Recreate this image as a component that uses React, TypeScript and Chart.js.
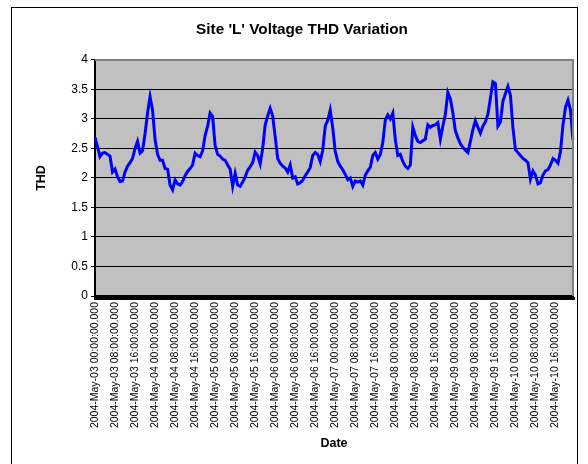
import React, { useEffect, useRef } from "react";
import { Chart, registerables } from "chart.js";

Chart.register(...registerables);

const TITLE = "Site 'L' Voltage THD Variation";
const X_TITLE = "Date";
const Y_TITLE = "THD";

// days covered (hourly samples, 8 days x 24 hours)
const days = ["03", "04", "05", "06", "07", "08", "09", "10"];
const hours = [
  "00", "01", "02", "03", "04", "05", "06", "07", "08", "09", "10", "11",
  "12", "13", "14", "15", "16", "17", "18", "19", "20", "21", "22", "23",
];

// hourly THD values, 2004-May-03 00:00 .. 2004-May-10 23:00
const thd = [
  2.69, 2.53, 2.36, 2.42, 2.43, 2.40, 2.37, 2.10, 2.15, 2.02,
  1.94, 1.95, 2.10, 2.20, 2.26, 2.33, 2.50, 2.62, 2.42, 2.46,
  2.75, 3.10, 3.38, 3.15, 2.65, 2.40, 2.30, 2.30, 2.16, 2.15,
  1.88, 1.80, 1.97, 1.90, 1.88, 1.94, 2.04, 2.11, 2.16, 2.22,
  2.42, 2.38, 2.36, 2.46, 2.72, 2.88, 3.10, 3.04, 2.55, 2.40,
  2.37, 2.32, 2.30, 2.22, 2.15, 1.86, 2.08, 1.88, 1.86, 1.93,
  2.02, 2.13, 2.19, 2.26, 2.44, 2.38, 2.24, 2.50, 2.90, 3.05,
  3.18, 3.05, 2.70, 2.33, 2.25, 2.20, 2.17, 2.10, 2.22, 2.00,
  2.02, 1.90, 1.92, 1.96, 2.04, 2.10, 2.18, 2.38, 2.43, 2.40,
  2.28, 2.47, 2.88, 2.98, 3.15, 2.85, 2.45, 2.28, 2.20, 2.14,
  2.06, 1.97, 2.00, 1.86, 1.95, 1.93, 1.95, 1.88, 2.05, 2.12,
  2.18, 2.38, 2.43, 2.32, 2.40, 2.60, 2.98, 3.07, 3.00, 3.10,
  2.65, 2.38, 2.40, 2.28, 2.20, 2.16, 2.22, 2.86, 2.72, 2.62,
  2.60, 2.63, 2.66, 2.90, 2.86, 2.89, 2.90, 2.94, 2.66, 2.88,
  3.08, 3.45, 3.34, 3.10, 2.80, 2.68, 2.58, 2.52, 2.47, 2.43,
  2.62, 2.82, 2.97, 2.86, 2.76, 2.88, 2.95, 3.08, 3.35, 3.63,
  3.60, 2.88, 2.95, 3.30, 3.43, 3.55, 3.40, 2.85, 2.48, 2.43,
  2.38, 2.33, 2.30, 2.26, 1.98, 2.12, 2.05, 1.90, 1.92, 2.05,
  2.12, 2.14, 2.22, 2.33, 2.30, 2.25, 2.45, 2.90, 3.20, 3.32,
  3.15, 2.64,
];

const labelEvery = 8;
const yTicks = [0, 0.5, 1, 1.5, 2, 2.5, 3, 3.5, 4];

const categories: string[] = [];
days.forEach((d) => hours.forEach((h) => categories.push(`2004-May-${d} ${h}:00:00.000`)));

const FONT = "'Liberation Sans', Arial, sans-serif";

const framePlugin = {
  id: "frame",
  beforeDraw(chart: any) {
    const { ctx, chartArea: a } = chart;
    ctx.save();
    ctx.fillStyle = "#ffffff";
    ctx.fillRect(0, 0, chart.width, chart.height);
    ctx.fillStyle = "#C0C0C0";
    ctx.fillRect(a.left, a.top, a.right - a.left, a.bottom - a.top);
    ctx.restore();
  },
  afterDraw(chart: any) {
    const { ctx, chartArea: a } = chart;
    ctx.save();
    ctx.strokeStyle = "#808080";
    ctx.lineWidth = 2;
    ctx.beginPath();
    ctx.moveTo(a.left, a.top);
    ctx.lineTo(a.right, a.top);
    ctx.lineTo(a.right, a.bottom);
    ctx.stroke();
    ctx.strokeStyle = "#000000";
    ctx.lineWidth = 1;
    ctx.strokeRect(11.5, 7.5, 566, 480);
    ctx.restore();
  },
};

export default function App() {
  const ref = useRef<HTMLCanvasElement | null>(null);
  useEffect(() => {
    if (!ref.current) return;
    const chart = new Chart(ref.current, {
      type: "line",
      data: {
        labels: categories,
        datasets: [
          {
            data: thd.slice(0, categories.length),
            borderColor: "#0000FF",
            borderWidth: 3,
            pointRadius: 0,
            tension: 0,
            fill: false,
          },
        ],
      },
      options: {
        responsive: false,
        animation: false,
        layout: { padding: { left: 31, right: 15, top: 0, bottom: 0 } },
        plugins: {
          legend: { display: false },
          tooltip: { enabled: false },
          title: {
            display: true,
            text: TITLE,
            color: "#000",
            font: { family: FONT, size: 15.3, weight: "bold" },
            padding: { top: 20.8, bottom: 20.8 },
          },
        },
        scales: {
          x: {
            type: "category",
            offset: false,
            afterFit(scale: any) {
              scale.height = 168;
            },
            grid: {
              display: true,
              drawOnChartArea: false,
              drawTicks: true,
              tickLength: 4,
              tickWidth: 3,
              tickColor: "#000",
              color: "#000",
            },
            border: { display: true, color: "#000", width: 2 },
            ticks: {
              autoSkip: false,
              minRotation: 90,
              maxRotation: 90,
              padding: 2,
              color: "#000",
              font: { family: FONT, size: 10.5 },
              callback(this: any, v: any, i: number) {
                return i % labelEvery === 0 ? categories[i] : "";
              },
            },
            title: {
              display: true,
              text: X_TITLE,
              color: "#000",
              font: { family: FONT, size: 12.5, weight: "bold" },
              padding: { top: 0, bottom: 13 },
            },
          },
          y: {
            min: 0,
            max: 4,
            afterFit(scale: any) {
              scale.width = 64;
            },
            afterBuildTicks(scale: any) {
              scale.ticks = yTicks.map((v) => ({ value: v }));
            },
            grid: {
              color: "#000",
              lineWidth: 1,
              tickLength: 4,
              tickColor: "#000",
            },
            border: { display: true, color: "#000", width: 2 },
            ticks: {
              padding: 3,
              color: "#000",
              font: { family: FONT, size: 12 },
              callback: (v: any) => String(v),
            },
            title: {
              display: true,
              text: Y_TITLE,
              color: "#000",
              font: { family: FONT, size: 12.5, weight: "bold" },
              padding: { top: 3, bottom: 0 },
            },
          },
        },
      },
      plugins: [framePlugin],
    });
    return () => chart.destroy();
  }, []);
  return (
    <div style={{ position: "absolute", left: 0, top: 0, width: 588, height: 464 }}>
      <canvas ref={ref} width={588} height={464} />
    </div>
  );
}
